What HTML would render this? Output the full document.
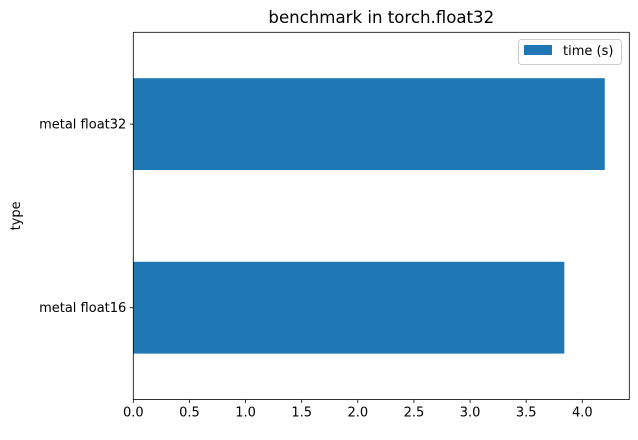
<!DOCTYPE html>
<html><head><meta charset="utf-8"><style>
body{margin:0;background:#fff;font-family:"Liberation Sans","DejaVu Sans",sans-serif;}
svg text{font-family:"DejaVu Sans","Liberation Sans",sans-serif;font-size:13px;fill:#000;}
</style></head><body>
<svg id="chart" width="638" height="435"></svg>
<script>
const categories = ["metal float16", "metal float32"];
const timeValues = [3.84, 4.20];
const xTicks = [0, 0.5, 1, 1.5, 2, 2.5, 3, 3.5, 4];
const xTickLabels = ["0.0","0.5","1.0","1.5","2.0","2.5","3.0","3.5","4.0"];

const NS = "http://www.w3.org/2000/svg";
const svg = document.getElementById("chart");
const L = 133.3, R = 629.3, T = 32.3, B = 399.5;
const xScale = v => L + v * 112.25;
const unit = (B - T) / 2;
const yScale = i => B - (i + 0.5) * unit;
function mk(tag, attrs, parent) {
  const e = document.createElementNS(NS, tag);
  for (const k in attrs) e.setAttribute(k, attrs[k]);
  (parent || svg).appendChild(e);
  return e;
}
categories.forEach((c, i) => {
  const yc = yScale(i);
  const bar = mk("rect", {x: xScale(0), y: yc - unit * 0.25, width: xScale(timeValues[i]) - xScale(0), height: unit * 0.5, fill: "#1f77b4"});
  
  
  mk("line", {x1: L - 3.5, x2: L, y1: yc, y2: yc, stroke: "#000", "stroke-width": 0.8});
  const t = mk("text", {x: L - 7, y: yc + 4.5, "text-anchor": "end"});
  t.textContent = c;
  
  
});
xTicks.forEach((v, i) => {
  const x = xScale(v);
  mk("line", {x1: x, x2: x, y1: B, y2: B + 3.5, stroke: "#000", "stroke-width": 0.8});
  const t = mk("text", {x: x, y: B + 17, "text-anchor": "middle"});
  t.textContent = xTickLabels[i];
  
  
});
const frame = mk("rect", {x: L, y: T, width: R - L, height: B - T, fill: "none", stroke: "#000", "stroke-width": 0.8});


const title = mk("text", {x: (L + R) / 2, y: 23, "text-anchor": "middle", style: "font-size:16.6px"});
title.textContent = "benchmark in torch.float32";


const yt = mk("text", {x: 20, y: (T + B) / 2, "text-anchor": "middle", transform: `rotate(-90 20 ${(T + B) / 2})`});
yt.textContent = "type";


const lg = mk("g", {});


mk("rect", {x: 518.5, y: 39.5, width: 103, height: 25, rx: 3, fill: "#fff", stroke: "#ccc", "stroke-width": 1}, lg);
mk("rect", {x: 524, y: 45, width: 28, height: 10, fill: "#1f77b4"}, lg);
const lt = mk("text", {x: 563, y: 55}, lg);
lt.textContent = "time (s)";


</script>
</body></html>
